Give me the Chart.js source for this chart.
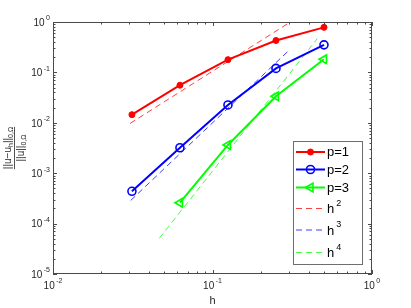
<!DOCTYPE html>
<html><head><meta charset="utf-8">
<script src="https://cdn.jsdelivr.net/npm/chart.js@4/dist/chart.umd.min.js"></script>
<style>html,body{margin:0;padding:0;background:#fff}canvas{display:block}</style>
</head><body>
<canvas id="c" width="411" height="308"></canvas>
<script>
// ---- data ----
const hValues = [0.03125, 0.0625, 0.125, 0.25, 0.5];
const errP1 = [0.0145, 0.0557, 0.179, 0.43, 0.783];
const errP2 = [0.000437, 0.0032, 0.0226, 0.120, 0.352];
const errP3 = [null, 0.00026, 0.00363, 0.0336, 0.182];
const refH2x = [0.0304, 0.30];
const refH2y = [0.0097, 0.95];
const refH3x = [0.0307, 0.30];
const refH3y = [0.000288, 0.27];
const refH4x = [0.0464, 0.454];
const refH4y = [0.000051, 0.467];
const seriesNames = ['p=1', 'p=2', 'p=3'];
const refBase = 'h';
const refExps = ['2', '3', '4'];
const xTickExps = ['-2', '-1', '0'];
const yTickExps = ['0', '-1', '-2', '-3', '-4', '-5'];
const xTitle = 'h';

const FONT = '"Liberation Sans", Arial, Helvetica, sans-serif';
const pts = (xs, ys) => xs.map((x, i) => ({x: x, y: ys[i]})).filter(p => p.y !== null);

const datasets = [
  {label: seriesNames[0], data: pts(hValues, errP1), borderColor: '#ff0000', backgroundColor: '#ff0000',
   borderWidth: 2, pointStyle: 'circle', pointRadius: 3, pointBorderWidth: 1, pointBackgroundColor: '#ff0000', pointBorderColor: '#ff0000'},
  {label: seriesNames[1], data: pts(hValues, errP2), borderColor: '#0000ff', backgroundColor: '#0000ff',
   borderWidth: 2, pointStyle: 'circle', pointRadius: 4, pointBorderWidth: 1.6, pointBackgroundColor: 'rgba(0,0,0,0)', pointBorderColor: '#0000ff'},
  {label: seriesNames[2], data: pts(hValues, errP3), borderColor: '#00ff00', backgroundColor: '#00ff00',
   borderWidth: 2, pointStyle: 'triangle', pointRotation: -90, pointRadius: 5, pointBorderWidth: 1.6, pointBackgroundColor: 'rgba(0,0,0,0)', pointBorderColor: '#00ff00'},
  {label: refBase + refExps[0], data: pts(refH2x, refH2y), borderColor: 'rgba(255,0,0,0.75)', borderWidth: 1, borderDash: [6, 4], pointRadius: 0},
  {label: refBase + refExps[1], data: pts(refH3x, refH3y), borderColor: 'rgba(0,0,255,0.75)', borderWidth: 1, borderDash: [6, 4], pointRadius: 0},
  {label: refBase + refExps[2], data: pts(refH4x, refH4y), borderColor: 'rgba(0,255,0,0.75)', borderWidth: 1, borderDash: [6, 4], pointRadius: 0}
];

function drawPow(ctx, x, y, exp, align) {
  // "10" with superscript exponent; y = vertical center for the base
  ctx.font = '10px ' + FONT;
  const wb = ctx.measureText('10').width;
  ctx.font = '7px ' + FONT;
  const we = ctx.measureText(exp).width;
  const gap = 1.5;
  const total = wb + gap + we;
  let x0 = align === 'right' ? x - total : x - total / 2;
  ctx.textAlign = 'left';
  ctx.textBaseline = 'middle';
  ctx.font = '10px ' + FONT;
  ctx.fillText('10', x0, y);
  ctx.font = '7px ' + FONT;
  ctx.fillText(exp, x0 + wb + gap, y - 4.5);
}

const overlay = {
  id: 'overlay',
  afterDraw(chart) {
    const ctx = chart.ctx;
    const a = chart.chartArea;
    const xs = chart.scales.x, ys = chart.scales.y;
    ctx.save();
    // box
    ctx.strokeStyle = '#4a4a4a';
    ctx.lineWidth = 1;
    ctx.strokeRect(Math.round(a.left) + 0.5, Math.round(a.top) + 0.5, Math.round(a.right - a.left) - 1, Math.round(a.bottom - a.top) - 1);
    // ticks
    ctx.beginPath();
    for (let d = -2; d <= 0; d++) {
      for (let m = 1; m <= 9; m++) {
        const v = m * Math.pow(10, d);
        if (v > 1.0000001) break;
        const px = Math.round(xs.getPixelForValue(v)) + 0.5;
        const L = m === 1 ? 4 : 2.5;
        ctx.moveTo(px, a.bottom); ctx.lineTo(px, a.bottom - L);
        ctx.moveTo(px, a.top); ctx.lineTo(px, a.top + L);
      }
    }
    for (let d = -5; d <= 0; d++) {
      for (let m = 1; m <= 9; m++) {
        const v = m * Math.pow(10, d);
        if (v > 1.0000001) break;
        const py = Math.round(ys.getPixelForValue(v)) + 0.5;
        const L = m === 1 ? 4 : 2.5;
        ctx.moveTo(a.left, py); ctx.lineTo(a.left + L, py);
        ctx.moveTo(a.right, py); ctx.lineTo(a.right - L, py);
      }
    }
    ctx.stroke();
    // tick labels
    ctx.fillStyle = '#262626';
    xTickExps.forEach(e => {
      const px = xs.getPixelForValue(Math.pow(10, Number(e)));
      drawPow(ctx, px, a.bottom + 12, e, 'center');
    });
    yTickExps.forEach(e => {
      const py = ys.getPixelForValue(Math.pow(10, Number(e)));
      drawPow(ctx, a.left - 3, py + 1, e, 'right');
    });
    // x title
    ctx.font = '11px ' + FONT;
    ctx.textAlign = 'center';
    ctx.textBaseline = 'middle';
    ctx.fillText(xTitle, (a.left + a.right) / 2, 301);
    // y title as a fraction
    ctx.save();
    ctx.translate(14.5, (a.top + a.bottom) / 2);
    ctx.rotate(-Math.PI / 2);
    const big = '10px ' + FONT, small = '7px ' + FONT;
    const numParts = [['||u\u2212u', big, 0], ['h', small, 2], ['||', big, 0], ['0,\u03a9', small, 2]];
    const denParts = [['||u||', big, 0], ['0,\u03a9', small, 2]];
    const width = parts => parts.reduce((s, p) => { ctx.font = p[1]; return s + ctx.measureText(p[0]).width; }, 0);
    const drawParts = (parts, base) => {
      let x = -width(parts) / 2;
      ctx.textAlign = 'left';
      ctx.textBaseline = 'alphabetic';
      parts.forEach(p => { ctx.font = p[1]; ctx.fillText(p[0], x, base + p[2]); x += ctx.measureText(p[0]).width; });
    };
    const nw = width(numParts);
    drawParts(numParts, -3.5);
    drawParts(denParts, 9.5);
    ctx.strokeStyle = '#262626';
    ctx.lineWidth = 0.8;
    ctx.beginPath(); ctx.moveTo(-nw / 2, 0); ctx.lineTo(nw / 2, 0); ctx.stroke();
    ctx.restore();
    // legend
    const lx = 293.5, ly = 141.5, lw = 69, lh = 123;
    ctx.fillStyle = '#ffffff';
    ctx.fillRect(lx, ly, lw, lh);
    ctx.strokeStyle = '#6e6e6e';
    ctx.lineWidth = 1;
    ctx.strokeRect(lx, ly, lw, lh);
    const rows = [152, 169.5, 187.5, 208.5, 230, 252.5];
    datasets.forEach((ds, i) => {
      const y = rows[i];
      ctx.save();
      ctx.strokeStyle = ds.borderColor;
      ctx.lineWidth = ds.borderWidth;
      ctx.setLineDash(ds.borderDash || []);
      ctx.beginPath(); ctx.moveTo(296, y); ctx.lineTo(325, y); ctx.stroke();
      ctx.setLineDash([]);
      if (ds.pointRadius > 0) {
        ctx.fillStyle = ds.pointBackgroundColor;
        ctx.strokeStyle = ds.pointBorderColor;
        ctx.lineWidth = ds.pointBorderWidth;
        Chart.helpers.drawPoint(ctx, {pointStyle: ds.pointStyle, rotation: ds.pointRotation || 0, radius: ds.pointRadius, borderWidth: ds.pointBorderWidth}, 310.5, y);
      }
      ctx.restore();
      ctx.fillStyle = '#000000';
      ctx.textAlign = 'left';
      ctx.textBaseline = 'middle';
      if (i < 3) {
        ctx.font = '13px ' + FONT;
        ctx.fillText(seriesNames[i], 327, y + 0.5);
      } else {
        ctx.font = '13px ' + FONT;
        ctx.fillText(refBase, 327, y + 1);
        const w = ctx.measureText(refBase).width;
        ctx.font = '9px ' + FONT;
        ctx.fillText(refExps[i - 3], 327 + w + 2, y - 5);
      }
    });
    ctx.restore();
  }
};

new Chart(document.getElementById('c'), {
  type: 'line',
  data: {datasets: datasets},
  options: {
    responsive: false,
    animation: false,
    layout: {padding: {left: 53, right: 39, top: 22, bottom: 34}},
    plugins: {legend: {display: false}, tooltip: {enabled: false}},
    scales: {
      x: {type: 'logarithmic', min: 0.01, max: 1, display: false},
      y: {type: 'logarithmic', min: 0.00001, max: 1, display: false}
    }
  },
  plugins: [overlay]
});
</script>
</body></html>
